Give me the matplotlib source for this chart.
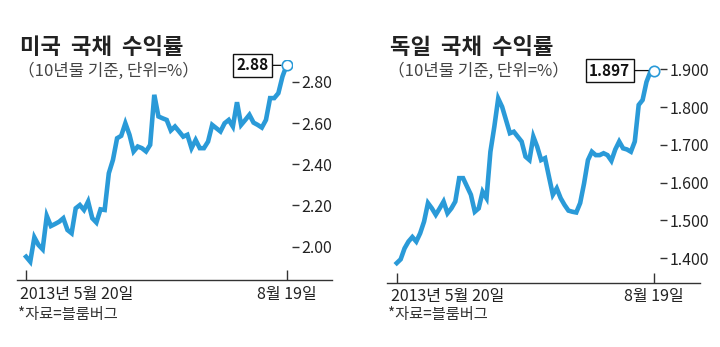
import matplotlib
matplotlib.use('Agg')
import matplotlib.pyplot as plt
import matplotlib.transforms as mtransforms

plt.rcParams['font.family'] = ['Noto Sans CJK KR', 'DejaVu Sans']

# 10-year yields, 2013-05-20 .. 2013-08-19
us_yield = [1.951, 1.927, 2.045, 2.008, 1.987, 2.149, 2.100, 2.110, 2.121, 2.138,
            2.081, 2.065, 2.186, 2.202, 2.178, 2.219, 2.138, 2.117, 2.181, 2.178,
            2.356, 2.421, 2.526, 2.538, 2.599, 2.543, 2.462, 2.486, 2.478, 2.462,
            2.494, 2.737, 2.632, 2.623, 2.615, 2.564, 2.583, 2.559, 2.534, 2.543,
            2.478, 2.518, 2.478, 2.478, 2.510, 2.591, 2.575, 2.559, 2.599, 2.615,
            2.583, 2.701, 2.591, 2.615, 2.640, 2.602, 2.591, 2.578, 2.615, 2.721,
            2.721, 2.745, 2.826, 2.88]
de_yield = [1.387, 1.397, 1.426, 1.444, 1.456, 1.444, 1.466, 1.497, 1.546, 1.532,
            1.515, 1.532, 1.550, 1.519, 1.532, 1.550, 1.612, 1.612, 1.590, 1.568,
            1.523, 1.532, 1.576, 1.559, 1.682, 1.748, 1.823, 1.801, 1.766, 1.731,
            1.735, 1.722, 1.709, 1.669, 1.660, 1.722, 1.695, 1.660, 1.665, 1.616,
            1.568, 1.585, 1.559, 1.541, 1.526, 1.523, 1.521, 1.546, 1.598, 1.660,
            1.682, 1.673, 1.673, 1.678, 1.673, 1.658, 1.688, 1.709, 1.691, 1.688,
            1.682, 1.709, 1.806, 1.819, 1.867, 1.894, 1.897]

us_ticks = [2.00, 2.20, 2.40, 2.60, 2.80]
de_ticks = [1.400, 1.500, 1.600, 1.700, 1.800, 1.900]
date_labels = ['2013년 5월 20일', '8월 19일']
titles = ['미국  국채  수익률', '독일  국채  수익률']
subtitle = '（10년물 기준, 단위=%）'
source = '*자료=블룸버그'
last_labels = ['2.88', '1.897']

blue = '#2a9ad8'
dark = '#333333'

W, H = 720, 347
fig = plt.figure(figsize=(W / 100, H / 100), dpi=100)


def px_axes(x0, x1, ytop, ybot):
    return fig.add_axes([x0 / W, 1 - ybot / H, (x1 - x0) / W, (ybot - ytop) / H])


ax1 = px_axes(17, 292, 60, 280)
ax2 = px_axes(387, 660, 60, 282.7)

setups = [
    (ax1, us_yield, us_ticks, '%.2f', (1.838, 2.906), (-2.2, 1.3), 20, -18),
    (ax2, de_yield, de_ticks, '%.3f', (1.335, 1.925), (-2.5, 1.46), 390, -24),
]

for i, (ax, ys, yt, fmt, ylim, xpad, tx, boxdx) in enumerate(setups):
    n = len(ys)
    xs = list(range(n))
    ax.plot(xs, ys, color=blue, lw=3.3, solid_joinstyle='miter', zorder=3)
    ax.plot([xs[-1]], [ys[-1]], 'o', ms=7.5, mfc='white', mec=blue, mew=1.2, zorder=5)
    ax.set_xlim(xpad[0], n - 1 + xpad[1])
    ax.set_ylim(*ylim)

    for s in ax.spines.values():
        s.set_visible(False)
    ax.plot([0, 1.147], [0, 0], transform=ax.transAxes, clip_on=False, color=dark, lw=1.0)

    ax.yaxis.tick_right()
    ax.set_yticks(yt)
    ax.set_yticklabels([fmt % v for v in yt])
    ax.tick_params(axis='y', length=5, width=1, color=dark, pad=2,
                   labelsize=11.5, labelcolor='#222222')

    ax.set_xticks([0, n - 1])
    ax.set_xticklabels(date_labels)
    ax.tick_params(axis='x', direction='in', length=7, width=1, color=dark, pad=4,
                   labelsize=11.5, labelcolor='#222222')
    first = ax.get_xticklabels()[0]
    first.set_ha('left')
    first.set_transform(first.get_transform() +
                        mtransforms.ScaledTranslation(-6 / 100, 0, fig.dpi_scale_trans))

    ax.annotate(last_labels[i], xy=(xs[-1], ys[-1]), xytext=(boxdx, 0),
                textcoords='offset pixels', ha='right', va='center',
                fontsize=11, fontweight='bold', color='#111111',
                bbox=dict(boxstyle='square,pad=0.22', fc='white', ec='#111111', lw=1.0),
                arrowprops=dict(arrowstyle='-', color='#111111', lw=0.9,
                                shrinkA=0, shrinkB=4), zorder=4)

    fig.text(tx / W, 1 - 47 / H, titles[i], fontsize=16, fontweight='bold',
             color='#222222', va='center', ha='left')
    fig.text((tx - 2) / W, 1 - 71 / H, subtitle, fontsize=12, color='#444444',
             va='center', ha='left')
    fig.text((tx - 2) / W, 1 - 315 / H, source, fontsize=11, color='#333333',
             va='center', ha='left')

fig.savefig('out.png', dpi=100, facecolor='white')
